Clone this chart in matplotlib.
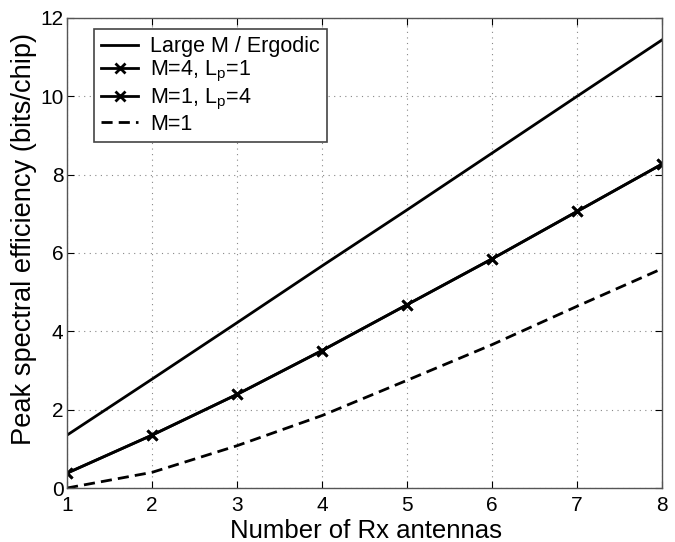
import matplotlib
matplotlib.use("Agg")
import matplotlib.pyplot as plt

plt.rcParams['font.family'] = ['Liberation Sans', 'DejaVu Sans']
plt.rcParams['mathtext.fontset'] = 'custom'
plt.rcParams['mathtext.rm'] = 'Liberation Sans'
plt.rcParams['mathtext.it'] = 'Liberation Sans'

rx = [1, 2, 3, 4, 5, 6, 7, 8]
large_m = [1.35, 2.78, 4.22, 5.67, 7.10, 8.55, 10.0, 11.44]
m4_lp1 = [0.38, 1.35, 2.39, 3.51, 4.68, 5.85, 7.06, 8.27]
m1_lp4 = [0.38, 1.35, 2.39, 3.51, 4.68, 5.85, 7.06, 8.27]
m1 = [0.0, 0.40, 1.08, 1.85, 2.75, 3.66, 4.64, 5.60]

labels = ['Large M / Ergodic', r'M=4, L$_\mathregular{p}$=1',
          r'M=1, L$_\mathregular{p}$=4', 'M=1']
xticks = [1, 2, 3, 4, 5, 6, 7, 8]
yticks = [0, 2, 4, 6, 8, 10, 12]

fig = plt.figure(figsize=(6.75, 5.42), dpi=100)
ax = fig.add_axes([0.0993, 0.0996, 0.8817, 0.8674])

lw = 2.0
ax.plot(rx, large_m, color='black', lw=lw, label=labels[0])
ax.plot(rx, m4_lp1, color='black', lw=lw, marker='x', ms=6.5, mew=2, label=labels[1])
ax.plot(rx, m1_lp4, color='black', lw=lw, marker='x', ms=6.5, mew=2, label=labels[2])
ax.plot(rx, m1, color='black', lw=lw, ls=(0, (4, 2.2)), label=labels[3])

ax.set_xlim(1, 8)
ax.set_ylim(0, 12)
ax.set_xticks(xticks)
ax.set_yticks(yticks)
ax.tick_params(direction='in', top=True, right=True, labelsize=15, length=5)
ax.tick_params(axis='x', pad=6)
ax.tick_params(axis='y', pad=2.5)
ax.grid(True, ls=(0, (1, 4)), color='#888888', lw=0.8)
for s in ax.spines.values():
    s.set_color('#555555')
    s.set_linewidth(1.0)

ax.set_xlabel('Number of Rx antennas', fontsize=18.5)
ax.set_ylabel('Peak spectral efficiency (bits/chip)', fontsize=19.6)
ax.xaxis.set_label_coords(0.5025, -0.066)
ax.yaxis.set_label_coords(-0.05, 0.53)

leg = ax.legend(loc='upper left', bbox_to_anchor=(0.045, 0.977), borderaxespad=0,
                fontsize=15.5, numpoints=1, handlelength=1.7, handletextpad=0.55,
                labelspacing=0.1, fancybox=False, framealpha=1, edgecolor='#444444',
                borderpad=0.35)
leg.get_frame().set_linewidth(1.2)

fig.savefig('out.png', dpi=100)
